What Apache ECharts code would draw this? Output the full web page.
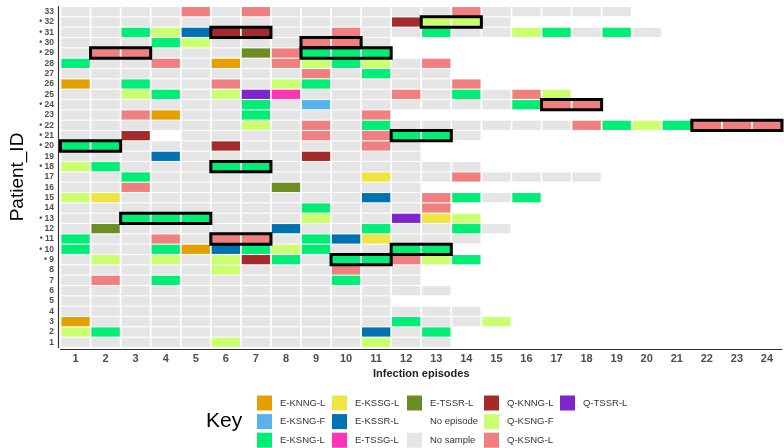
<!DOCTYPE html>
<html>
<head>
<meta charset="utf-8">
<script src="https://cdn.jsdelivr.net/npm/echarts@6/dist/echarts.min.js"></script>
<style>
  html, body { margin: 0; padding: 0; background: #ffffff; }
  #chart { width: 784px; height: 448px; }
</style>
</head>
<body>
<div id="chart"></div>
<script>
// Infection episodes (x axis tick labels)
const episodes = ['1','2','3','4','5','6','7','8','9','10','11','12','13','14','15','16','17','18','19','20','21','22','23','24'];
// Patient IDs (y axis tick labels, bottom to top); "•" marks flagged patients
const patientLabels = ['1','2','3','4','5','6','7','8','• 9','• 10','• 11','12','• 13','14','15','16','17','• 18','19','• 20','• 21','• 22','23','• 24','25','26','27','28','• 29','• 30','• 31','• 32','33'];

// Status categories, their one-letter codes and colours
const statusNames  = ['E-KNNG-L','E-KSNG-F','E-KSNG-L','E-KSSG-L','E-KSSR-L','E-TSSG-L','E-TSSR-L','No episode','No sample','Q-KNNG-L','Q-KSNG-F','Q-KSNG-L','Q-TSSR-L'];
const statusCodes  = ['o','b','g','y','B','p','v','w','.','r','l','s','u'];
const statusColors = ['#E69F00','#56B4E9','#00EE76','#F0E442','#0072B2','#FF34B3','#6B8E23','#FFFFFF','#E5E5E5','#A52A2A','#CAFF70','#F08080','#7D26CD'];

// One string per patient (patient 1 first); each character is the status of an episode
const episodeCodes = [
  '.....l....l..',            // 1
  'lg........B.g',            // 2
  'o..........g..l',          // 3
  '..............',           // 4
  '...........',              // 5
  '.............',            // 6
  '.s.g.....g..',             // 7
  '.....l...s..',             // 8
  '.l.l.lrg.ggslg',           // 9
  'g..goBglg..gg',            // 10
  'g..s.ss.gBy...',           // 11
  '.v.....B..g..g.',          // 12
  '..ggg...l..uyl',           // 13
  '........g...s',            // 14
  'ly........B.sg.g',         // 15
  '..s....v....',             // 16
  '..g.......y..s....',       // 17
  'lg...gg.......',           // 18
  '...B....r...',             // 19
  'gg...r....s.',             // 20
  '..rw....s.sgg.',           // 21
  '......l.s.g......sglgsss', // 22
  '..so..g...s',              // 23
  '......g.b......gss',       // 24
  '..lg.lup...s.g.sl',        // 25
  'o.g..s.lg....s',           // 26
  '........s.g..',            // 27
  'g..s.o.slgl.s',            // 28
  '.ss...vsggg',              // 29
  '...gl...ss.',              // 30
  '..glBrr..s..g..lg.g.',     // 31
  '...........rll.',          // 32
  '....s.s......s.....'       // 33
];

// Outlined runs: [patient, first episode, last episode]
const outlinedRuns = [
  [32, 13, 14], [31, 6, 7], [30, 9, 10], [29, 2, 3], [29, 9, 11],
  [24, 17, 18], [22, 22, 24], [21, 12, 13], [20, 1, 2], [18, 6, 7],
  [13, 3, 5], [11, 6, 7], [10, 12, 13], [9, 10, 11]
];

// ---- build series data ----
const seriesData = statusNames.map(() => []);
episodeCodes.forEach((row, r) => {
  for (let c = 0; c < row.length; c++) {
    const k = statusCodes.indexOf(row[c]);
    if (k >= 0) seriesData[k].push([c, r]);
  }
});

function renderCell(params, api) {
  const p = api.coord([api.value(0), api.value(1)]);
  const s = api.size([1, 1]);
  return {
    type: 'rect',
    shape: { x: p[0] - s[0] / 2 + 0.85, y: p[1] - s[1] / 2 + 0.55, width: s[0] - 1.7, height: s[1] - 1.1 },
    style: { fill: api.visual('color') }
  };
}

function renderBox(params, api) {
  const row = api.value(0);
  const p1 = api.coord([api.value(1), row]);
  const p2 = api.coord([api.value(2), row]);
  const s = api.size([1, 1]);
  return {
    type: 'rect',
    shape: { x: p1[0] - s[0] / 2, y: p1[1] - s[1] / 2, width: p2[0] - p1[0] + s[0], height: s[1] },
    style: { fill: 'none', stroke: '#000000', lineWidth: 3 }
  };
}

const series = statusNames.map((name, k) => ({
  name: name,
  type: 'custom',
  renderItem: renderCell,
  itemStyle: { color: statusColors[k] },
  encode: { x: 0, y: 1 },
  data: seriesData[k],
  z: 2,
  silent: true
}));

series.push({
  name: 'outlined',
  type: 'custom',
  renderItem: renderBox,
  encode: { x: [1, 2], y: 0 },
  data: outlinedRuns.map(d => [d[0] - 1, d[1] - 1, d[2] - 1]),
  z: 5,
  silent: true
});

const legendCols = [
  ['E-KNNG-L','E-KSNG-F','E-KSNG-L'],
  ['E-KSSG-L','E-KSSR-L','E-TSSG-L'],
  ['E-TSSR-L','No episode','No sample'],
  ['Q-KNNG-L','Q-KSNG-F','Q-KSNG-L'],
  ['Q-TSSR-L']
];
const legendLeft = [257, 332, 407, 484, 560];

const legends = legendCols.map((names, i) => ({
  data: names.map(n => ({ name: n, icon: 'rect' })),
  orient: 'vertical',
  left: legendLeft[i],
  top: 395.5,
  height: 60,
  padding: 0,
  itemWidth: 15,
  itemHeight: 15,
  itemGap: 3.6,
  selectedMode: false,
  textStyle: { fontFamily: 'Liberation Sans', fontSize: 9.5, color: '#333333', padding: [0, 0, 0, 3] }
}));

const chart = echarts.init(document.getElementById('chart'), null, { renderer: 'canvas' });
chart.setOption({
  animation: false,
  backgroundColor: '#ffffff',
  grid: { left: 56, right: 2, top: 6.5, bottom: 100.5, containLabel: false },
  xAxis: {
    type: 'category',
    data: episodes,
    offset: 1.5,
    name: 'Infection episodes',
    nameLocation: 'middle',
    nameGap: 17,
    nameTextStyle: { fontFamily: 'Liberation Sans', fontSize: 11, fontWeight: 'bold', color: '#222222' },
    axisLine: { lineStyle: { color: '#333333', width: 1.2 } },
    axisTick: { alignWithLabel: true, length: 3, interval: 0, lineStyle: { color: '#333333' } },
    axisLabel: { interval: 0, fontFamily: 'Liberation Sans', fontSize: 11, fontWeight: 'bold', color: '#4D4D4D', margin: 4 },
    splitLine: { show: false }
  },
  yAxis: {
    type: 'category',
    data: patientLabels,
    offset: 2.5,
    name: 'Patient_ID',
    nameLocation: 'middle',
    nameGap: 31,
    nameTextStyle: { fontFamily: 'Liberation Sans', fontSize: 19, color: '#000000' },
    axisLine: { lineStyle: { color: '#333333', width: 1.2 } },
    axisTick: { alignWithLabel: true, length: 3, interval: 0, lineStyle: { color: '#333333' } },
    axisLabel: { interval: 0, fontFamily: 'Liberation Sans', fontSize: 8.5, fontWeight: 'bold', color: '#4D4D4D', margin: 4 },
    splitLine: { show: false }
  },
  legend: legends,
  graphic: [{
    type: 'text',
    left: 206,
    top: 411,
    style: { text: 'Key', font: '21px "Liberation Sans"', fill: '#000000' }
  }],
  series: series
});
</script>
</body>
</html>
